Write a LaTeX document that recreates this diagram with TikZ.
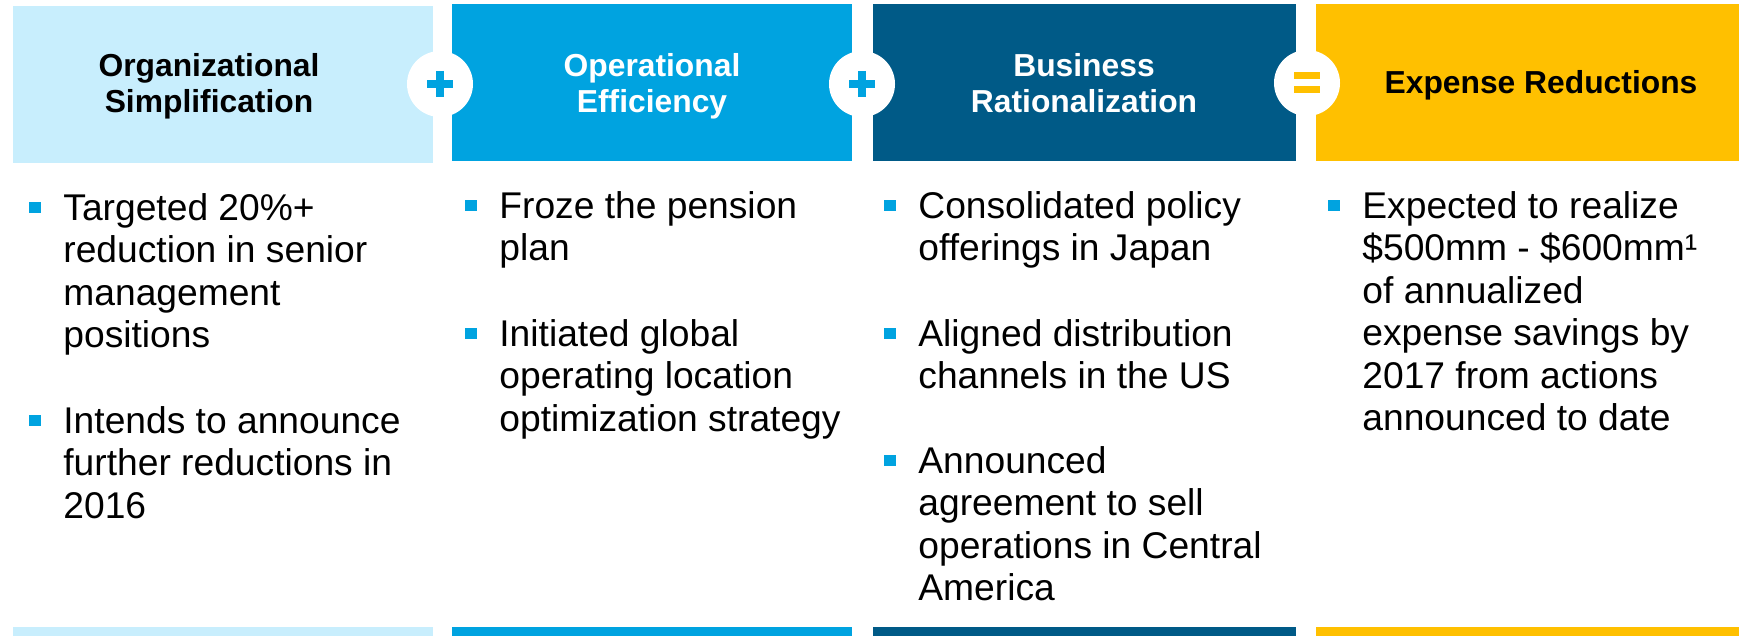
\documentclass[tikz,border=0pt]{standalone}
\usepackage{fontspec}
\setmainfont{Liberation Sans}
\usepackage{xcolor}
\usetikzlibrary{calc}

\definecolor{paleblue}{RGB}{200,238,253}
\definecolor{brightblue}{RGB}{0,163,224}
\definecolor{navyblue}{RGB}{0,90,135}
\definecolor{gold}{RGB}{255,192,0}

\newcommand{\headfont}{\bfseries\fontsize{15.9pt}{18.25pt}\selectfont}
\newcommand{\bodyfont}{\fontsize{18.6pt}{21.25pt}\selectfont}
% square bullet hanging left of the first line
\newcommand{\sqbullet}{\strut\llap{\textcolor{brightblue}{\rule[3.5pt]{5.6pt}{5.6pt}}\hspace{11.4pt}}}

\begin{document}
\begin{tikzpicture}[x=0.5pt, y=-0.5pt,
    head/.style={font=\headfont, align=center, inner sep=0},
    body/.style={font=\bodyfont, align=left, anchor=north west, inner sep=0},
    sign/.style={circle, fill=white, minimum size=33pt, inner sep=0}]
    \useasboundingbox (0,0) rectangle (1743,636);

    % Header boxes
    \fill[paleblue]   (13,6)   rectangle (433,163);
    \fill[brightblue] (452,4)  rectangle (852,161);
    \fill[navyblue]   (873,4)  rectangle (1296,161);
    \fill[gold]       (1316,4) rectangle (1739,161);

    % Strips along the bottom edge
    \fill[paleblue]   (13,627)   rectangle (433,636);
    \fill[brightblue] (452,627)  rectangle (852,636);
    \fill[navyblue]   (873,627)  rectangle (1296,636);
    \fill[gold]       (1316,627) rectangle (1739,636);

    % Header titles
    \node[head, text=black] (org) at (209,86.5) {Organizational\\Simplification};
    \node[head, text=white] (ops) at (652,86.5) {Operational\\Efficiency};
    \node[head, text=white] (bus) at (1084,83) {Business\\Rationalization};
    \node[head, text=black] (exp) at (1541,85) {Expense Reductions};

    % Plus and equals signs between the boxes
    \node[sign] (plusA) at (440,84) {};
    \node[sign] (plusB) at (862,84) {};
    \node[sign] (equal) at (1307,83) {};
    \draw[brightblue, line width=4pt] ($(plusA)+(-13,0)$) -- ($(plusA)+(13,0)$);
    \draw[brightblue, line width=4pt] ($(plusA)+(0,-13)$) -- ($(plusA)+(0,13)$);
    \draw[brightblue, line width=4pt] ($(plusB)+(-13,0)$) -- ($(plusB)+(13,0)$);
    \draw[brightblue, line width=4pt] ($(plusB)+(0,-13)$) -- ($(plusB)+(0,13)$);
    \fill[gold] ($(equal)+(-13,-11)$) rectangle ($(equal)+(13,-4)$);
    \fill[gold] ($(equal)+(-13,3)$) rectangle ($(equal)+(13,10)$);

    % Bullet points, column by column
    \node[body] (orgA) at (63,190) {\sqbullet Targeted 20\%+\\reduction in senior\\management\\positions};
    \node[body] (orgB) at (63,403) {\sqbullet Intends to announce\\further reductions in\\2016};

    \node[body] (opsA) at (499,188) {\sqbullet Froze the pension\\plan};
    \node[body] (opsB) at (499,316) {\sqbullet Initiated global\\operating location\\optimization strategy};

    \node[body] (busA) at (918,188) {\sqbullet Consolidated policy\\offerings in Japan};
    \node[body] (busB) at (918,316) {\sqbullet Aligned distribution\\channels in the US};
    \node[body] (busC) at (918,443) {\sqbullet Announced\\agreement to sell\\operations in Central\\America};

    \node[body] (expA) at (1362,188) {\sqbullet Expected to realize\\\$500mm - \$600mm¹\\of annualized\\expense savings by\\2017 from actions\\announced to date};
\end{tikzpicture}
\end{document}
